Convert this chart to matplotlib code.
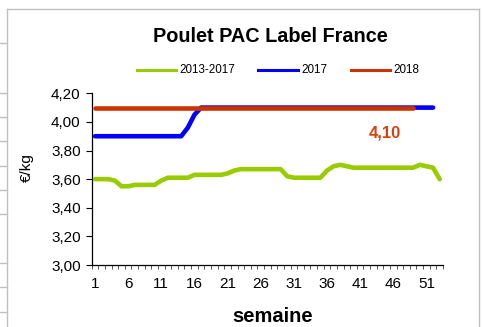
import matplotlib
matplotlib.use("Agg")
import matplotlib.pyplot as plt
from matplotlib.lines import Line2D
from matplotlib.ticker import FuncFormatter, FixedLocator

plt.rcParams['font.family'] = ['Liberation Sans', 'DejaVu Sans']

weeks = list(range(1, 54))

avg_2013_2017 = [3.60, 3.60, 3.60, 3.59, 3.55, 3.55, 3.56, 3.56, 3.56, 3.56,
                 3.59, 3.61, 3.61, 3.61, 3.61, 3.63, 3.63, 3.63, 3.63, 3.63,
                 3.64, 3.66, 3.67, 3.67, 3.67, 3.67, 3.67, 3.67, 3.67, 3.62,
                 3.61, 3.61, 3.61, 3.61, 3.61, 3.66, 3.69, 3.70, 3.69, 3.68,
                 3.68, 3.68, 3.68, 3.68, 3.68, 3.68, 3.68, 3.68, 3.68, 3.70,
                 3.69, 3.68, 3.60]

prices_2017 = [3.90] * 14 + [3.96, 4.05] + [4.10] * 36

prices_2018 = [4.10] * 49

last_label = "4,10"

series_names = ["2013-2017", "2017", "2018"]
colors = ["#99CC00", "#0000FF", "#CC3300"]

fig = plt.figure(figsize=(4.83, 3.27), dpi=100)
W, H = 483, 327

ax = fig.add_axes([91.7 / W, 62 / H, (443 - 91.7) / W, (265 - 93.3) / H])

lw = 3.3
ax.plot(weeks[:len(avg_2013_2017)], avg_2013_2017, color=colors[0], lw=lw,
        solid_capstyle='round', solid_joinstyle='round', zorder=3)
ax.plot(weeks[:len(prices_2017)], prices_2017, color=colors[1], lw=lw,
        solid_capstyle='round', solid_joinstyle='round', zorder=4)
ax.plot(weeks[:len(prices_2018)], prices_2018, color=colors[2], lw=lw,
        solid_capstyle='round', solid_joinstyle='round', zorder=5)

ax.set_xlim(0.5, 53.5)
ax.set_ylim(3.0, 4.2)
ax.set_yticks([3.0 + 0.2 * i for i in range(7)])
ax.yaxis.set_major_formatter(FuncFormatter(lambda v, p: f"{v:.2f}".replace(".", ",")))
ax.set_xticks(list(range(1, 54, 5)))
ax.set_xticklabels([str(w) for w in range(1, 54, 5)])
ax.xaxis.set_minor_locator(FixedLocator([w + 0.5 for w in range(0, 54)]))

for s in ("top", "right"):
    ax.spines[s].set_visible(False)
for s in ("left", "bottom"):
    ax.spines[s].set_color("black")
    ax.spines[s].set_linewidth(0.9)

ax.tick_params(axis='y', direction='out', length=4, width=0.8, labelsize=11,
               pad=4, colors='black')
ax.tick_params(axis='x', which='major', length=0, labelsize=11, pad=9)
ax.tick_params(axis='x', which='minor', direction='out', length=3, width=0.7,
               color='#555555')

ax.text(385 / W, 1 - 133 / H, last_label, transform=fig.transFigure,
        color="#D9400F", fontsize=12, fontweight='bold', ha='center', va='center')

fig.text(270 / W, 1 - 36 / H, "Poulet PAC Label France", fontsize=14.3,
         fontweight='bold', ha='center', va='center')
fig.text(273 / W, 1 - 316 / H, "semaine", fontsize=14.5, fontweight='bold',
         ha='center', va='center')
fig.text(27 / W, 1 - 168 / H, "€/kg", fontsize=11, rotation=90,
         ha='center', va='center')

# legend drawn in figure pixels
legend_y = 1 - 70 / H
legend_items = [(137, 176, 179), (258, 298, 301), (351, 390, 393)]
for (x0, x1, xt), name, c in zip(legend_items, series_names, colors):
    fig.add_artist(Line2D([x0 / W, x1 / W], [legend_y, legend_y], color=c, lw=2.2,
                          transform=fig.transFigure))
    fig.text(xt / W, legend_y, name, fontsize=8.4, ha='left', va='center')

# surrounding frame and spreadsheet grid lines
grey = "#C0C0C0"
fig.add_artist(Line2D([7 / W, 7 / W], [0, 1 - 9 / H], color=grey, lw=1,
                      transform=fig.transFigure))
fig.add_artist(Line2D([7 / W, 479 / W], [1 - 9 / H, 1 - 9 / H], color=grey, lw=1,
                      transform=fig.transFigure))
fig.add_artist(Line2D([479 / W, 479 / W], [0, 1 - 9 / H], color=grey, lw=1,
                      transform=fig.transFigure))
for yy in [43, 93, 117, 141, 166, 190, 214, 263, 287, 312]:
    fig.add_artist(Line2D([0, 7 / W], [1 - yy / H, 1 - yy / H], color=grey, lw=1,
                          transform=fig.transFigure))

fig.savefig("out.png", dpi=100)
